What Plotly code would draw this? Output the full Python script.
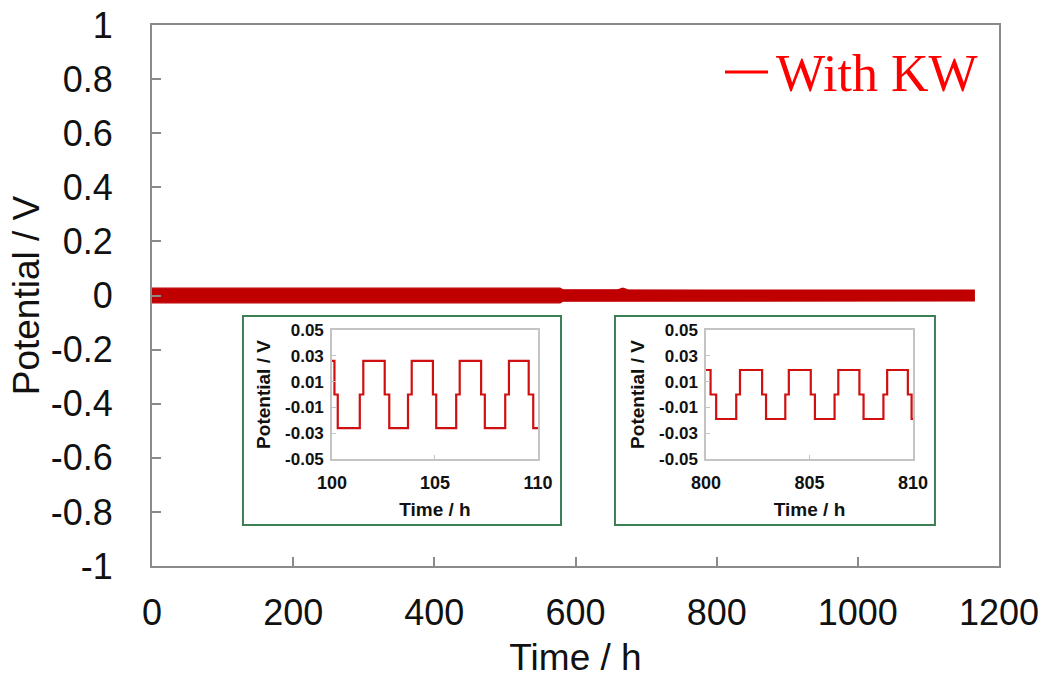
import plotly.graph_objects as go

# ---- long-term cycling: envelope of the potential trace (h, V) ----
cycle_time = [0, 100, 200, 230, 300, 400, 500, 510, 578, 582, 660, 667, 674, 800, 1000, 1165]
cycle_upper = [0.027, 0.027, 0.027, 0.027, 0.027, 0.027, 0.027, 0.027, 0.027,
               0.021, 0.021, 0.027, 0.021, 0.020, 0.020, 0.020]
cycle_lower = [-0.027, -0.027, -0.027, -0.029, -0.029, -0.029, -0.029, -0.027, -0.027,
               -0.021, -0.021, -0.021, -0.021, -0.020, -0.020, -0.020]

# ---- detail windows: level-change times (h) and potentials (V) ----
early_time = [100.0, 100.12, 100.28, 101.35, 101.52, 102.56, 102.78, 103.69, 103.87, 104.90,
              105.06, 106.03, 106.20, 107.24, 107.42, 108.41, 108.59, 109.55, 109.77, 110.0]
early_potential = [0.026, 0.0, -0.026, 0.0, 0.026, 0.0, -0.026, 0.0, 0.026, 0.0,
                   -0.026, 0.0, 0.026, 0.0, -0.026, 0.0, 0.026, 0.0, -0.026, -0.026]

late_time = [800.0, 800.22, 800.49, 801.46, 801.64, 802.71, 802.90, 803.83, 804.00, 805.06,
             805.26, 806.21, 806.39, 807.41, 807.61, 808.57, 808.75, 809.75, 809.93, 810.0]
late_potential = [0.019, 0.0, -0.019, 0.0, 0.019, 0.0, -0.019, 0.0, 0.019, 0.0,
                  -0.019, 0.0, 0.019, 0.0, -0.019, 0.0, 0.019, 0.0, -0.019, -0.019]

# ---- tick labels ----
main_x_ticks = [0, 200, 400, 600, 800, 1000, 1200]
main_y_ticks = [-1, -0.8, -0.6, -0.4, -0.2, 0, 0.2, 0.4, 0.6, 0.8, 1]
main_y_text = ["-1", "-0.8", "-0.6", "-0.4", "-0.2", "0", "0.2", "0.4", "0.6", "0.8", "1"]
inset_y_ticks = [-0.05, -0.03, -0.01, 0.01, 0.03, 0.05]
inset_y_text = ["-0.05", "-0.03", "-0.01", "0.01", "0.03", "0.05"]
early_x_ticks = [100, 105, 110]
late_x_ticks = [800, 805, 810]

FONT = "Liberation Sans"
MAIN_RED = "#C00000"
INSET_RED = "#D01010"
FRAME = "#8A8A8A"
INSET_FRAME = "#C4C4C4"
BOX_GREEN = "#3C7F55"

fig = go.Figure()

# main band: upper edge forward, lower edge back
fig.add_trace(go.Scatter(
    x=cycle_time + cycle_time[::-1],
    y=cycle_upper + cycle_lower[::-1],
    fill="toself", fillcolor=MAIN_RED,
    mode="lines", line=dict(color=MAIN_RED, width=1.2),
    showlegend=False, hoverinfo="skip", xaxis="x", yaxis="y",
))

fig.add_trace(go.Scatter(
    x=early_time, y=early_potential, mode="lines", line_shape="hv",
    line=dict(color=INSET_RED, width=2.2), showlegend=False, xaxis="x2", yaxis="y2",
))
fig.add_trace(go.Scatter(
    x=late_time, y=late_potential, mode="lines", line_shape="hv",
    line=dict(color=INSET_RED, width=2.2), showlegend=False, xaxis="x3", yaxis="y3",
))

main_axis = dict(
    showline=True, mirror=True, linecolor=FRAME, linewidth=2,
    ticks="inside", ticklen=9, tickwidth=2, tickcolor=FRAME,
    showgrid=False, zeroline=False, automargin=False,
    tickfont=dict(family=FONT, size=36, color="#111111"),
)

inset_common = dict(
    showline=True, mirror=True, linecolor=INSET_FRAME, linewidth=1.5,
    ticks="inside", ticklen=4, tickwidth=1.2, tickcolor=INSET_FRAME,
    showgrid=False, zeroline=False, automargin=False,
)
inset_y_font = dict(family=FONT, size=17, color="#111111", weight="bold")
inset_x_font = dict(family=FONT, size=18, color="#111111", weight="bold")
inset_title_font = dict(family=FONT, size=19, color="#111111", weight="bold")

fig.update_layout(
    width=1048, height=678,
    margin=dict(l=152, r=49, t=25, b=112),
    paper_bgcolor="white", plot_bgcolor="white",
    xaxis=dict(
        main_axis, domain=[0, 1], range=[0, 1200], tickvals=main_x_ticks,
        ticklabelstandoff=14,
        title=dict(text="Time / h", font=dict(family=FONT, size=37, color="#111111"), standoff=14),
    ),
    yaxis=dict(
        main_axis, domain=[0, 1], range=[-1, 1], tickvals=main_y_ticks, ticktext=main_y_text,
        ticklabelstandoff=30,
        title=dict(text="Potential / V", font=dict(family=FONT, size=37, color="#111111"), standoff=0),
    ),
    xaxis2=dict(
        inset_common, domain=[0.2125, 0.4557], range=[100, 110], anchor="y2",
        tickvals=early_x_ticks, tickfont=inset_x_font, ticklabelstandoff=7,
        title=dict(text="Time / h", font=inset_title_font, standoff=10),
    ),
    yaxis2=dict(
        inset_common, domain=[0.1978, 0.4362], range=[-0.05, 0.05], anchor="x2",
        tickvals=inset_y_ticks, ticktext=inset_y_text, tickfont=inset_y_font,
        ticklabelstandoff=3,
        title=dict(text="Potential / V", font=inset_title_font, standoff=9),
    ),
    xaxis3=dict(
        inset_common, domain=[0.6541, 0.8985], range=[800, 810], anchor="y3",
        tickvals=late_x_ticks, tickfont=inset_x_font, ticklabelstandoff=7,
        title=dict(text="Time / h", font=inset_title_font, standoff=10),
    ),
    yaxis3=dict(
        inset_common, domain=[0.1978, 0.4362], range=[-0.05, 0.05], anchor="x3",
        tickvals=inset_y_ticks, ticktext=inset_y_text, tickfont=inset_y_font,
        ticklabelstandoff=3,
        title=dict(text="Potential / V", font=inset_title_font, standoff=9),
    ),
    shapes=[
        # inset frames
        dict(type="rect", xref="paper", yref="paper", x0=0.1074, x1=0.4829, y0=0.0758, y1=0.4621,
             line=dict(color=BOX_GREEN, width=2), fillcolor="white", layer="below"),
        dict(type="rect", xref="paper", yref="paper", x0=0.5466, x1=0.9244, y0=0.0758, y1=0.4621,
             line=dict(color=BOX_GREEN, width=2), fillcolor="white", layer="below"),
        # legend line sample
        dict(type="line", xref="paper", yref="paper", x0=0.6765, x1=0.7273, y0=0.9131, y1=0.9131,
             line=dict(color="#FF0000", width=3)),
    ],
    annotations=[
        dict(text="With KW", xref="paper", yref="paper", x=0.734, y=0.911,
             xanchor="left", yanchor="middle", showarrow=False,
             font=dict(family="Liberation Serif", size=52, color="#FF0000")),
    ],
)

fig.write_html("out.html")
